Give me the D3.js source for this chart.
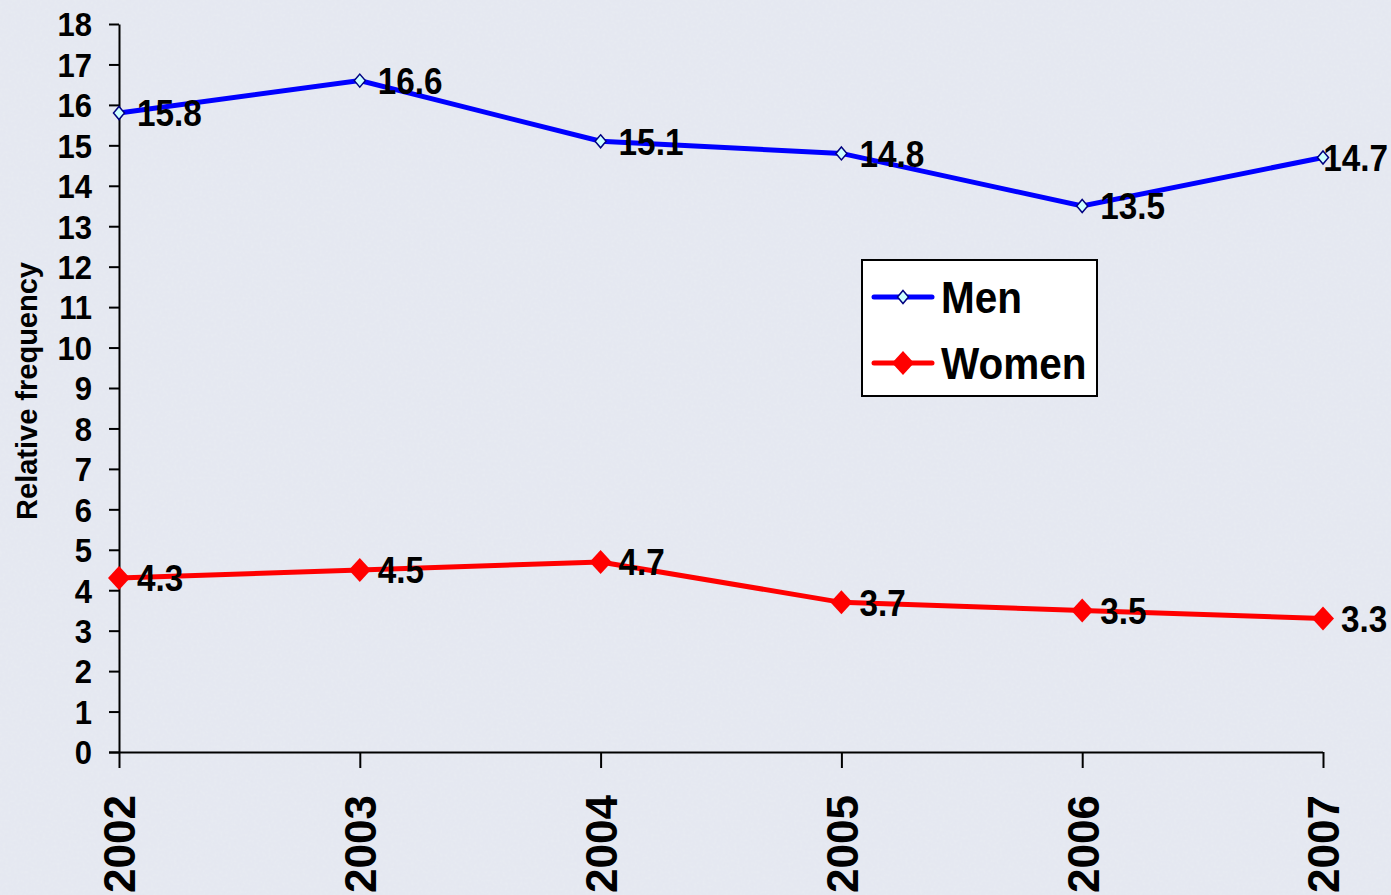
<!DOCTYPE html>
<html><head><meta charset="utf-8">
<script src="https://cdn.jsdelivr.net/npm/d3@7"></script>
<style>
html,body{margin:0;padding:0;background:#e1e5ee;}
svg{display:block;}
text{font-family:"Liberation Sans",Arial,sans-serif;font-weight:bold;fill:#000;}
</style></head>
<body>
<svg id="c" width="1391" height="895"></svg>
<script>
const years = ["2002","2003","2004","2005","2006","2007"];
const men = [15.8, 16.6, 15.1, 14.8, 13.5, 14.7];
const women = [4.3, 4.5, 4.7, 3.7, 3.5, 3.3];
const yTicks = d3.range(0, 19);
const seriesNames = ["Men", "Women"];

const W = 1391, H = 895;
const svg = d3.select("#c");
// textured background
const defs = svg.append("defs");
const f = defs.append("filter").attr("id","noise").attr("x",0).attr("y",0).attr("width","100%").attr("height","100%");
f.append("feTurbulence").attr("type","fractalNoise").attr("baseFrequency","0.35").attr("numOctaves",2).attr("seed",3).attr("result","n");
f.append("feColorMatrix").attr("in","n").attr("type","matrix")
 .attr("values","0 0 0 0 0.86  0 0 0 0 0.89  0 0 0 0 0.94  0 0 0 0.55 0").attr("result","c");
f.append("feComposite").attr("in","c").attr("in2","SourceGraphic").attr("operator","over");
svg.append("rect").attr("width",W).attr("height",H).attr("fill","#e4e7f0");
svg.append("rect").attr("width",W).attr("height",H).attr("fill","#e4e7f0").attr("filter","url(#noise)").attr("opacity",0.6);

const x = d3.scalePoint().domain(years).range([119, 1323]);
const y = d3.scaleLinear().domain([0, 18]).range([752, 24]);

// Y axis
const ya = svg.append("g").attr("transform","translate(119,0)")
  .call(d3.axisLeft(y).tickValues(yTicks).tickSize(10).tickSizeOuter(0).tickPadding(17));
ya.select(".domain").attr("stroke","#000").attr("stroke-width",2);
ya.selectAll(".tick line").attr("stroke","#000").attr("stroke-width",2);
ya.selectAll(".tick text").style("font-size","33px").attr("dy","0.36em")
  .attr("transform","scale(0.94,1)").attr("x",-27/0.94);

// X axis
const xa = svg.append("g").attr("transform","translate(0,752)")
  .call(d3.axisBottom(x).tickSize(16).tickSizeOuter(0));
xa.select(".domain").attr("d","M109,0.5H1323").attr("stroke","#000").attr("stroke-width",2);
xa.selectAll(".tick line").attr("stroke","#000").attr("stroke-width",2);
xa.selectAll(".tick text")
  .style("font-size","44px")
  .attr("text-anchor","end")
  .attr("transform","rotate(-90)")
  .attr("x",-43).attr("y",0).attr("dy","0.36em");

// Y title
svg.append("text")
  .attr("transform","translate(37,391) rotate(-90)")
  .attr("text-anchor","middle")
  .style("font-size","29px")
  .text("Relative frequency");

const line = d3.line().x((d,i)=>x(years[i])).y(d=>y(d));

// Men
svg.append("path").datum(men).attr("d",line).attr("fill","none")
  .attr("stroke","#0000ff").attr("stroke-width",5).attr("stroke-linejoin","miter");
// Women
svg.append("path").datum(women).attr("d",line).attr("fill","none")
  .attr("stroke","#ff0000").attr("stroke-width",5).attr("stroke-linejoin","miter");

function diamond(sel, cx, cy, w, h){
  sel.attr("d",`M${cx},${cy-h}L${cx+w},${cy}L${cx},${cy+h}L${cx-w},${cy}Z`);
}
men.forEach((v,i)=>{
  svg.append("path").call(diamond, x(years[i]), y(v), 5.5, 6.5)
    .attr("fill","#ccffff").attr("stroke","#000080").attr("stroke-width",1.5);
});
women.forEach((v,i)=>{
  svg.append("path").call(diamond, x(years[i]), y(v), 11, 12)
    .attr("fill","#ff0000");
});

// labels
const SX = 0.9;
function labels(data){
  svg.append("g").selectAll("text").data(data).join("text")
    .attr("dy","0.36em")
    .style("font-size","37px")
    .text(d=>d3.format(".1f")(d))
    .each(function(d,i){
      const w = this.getComputedTextLength()*SX;
      const lx = Math.min(x(years[i])+18, W - 3 - w);
      d3.select(this).attr("transform",`translate(${lx},${y(d)}) scale(${SX},1)`);
    });
}
labels(men);
labels(women);

// legend
const lg = svg.append("g");
lg.append("rect").attr("x",862).attr("y",260).attr("width",235).attr("height",136)
  .attr("fill","#fff").attr("stroke","#000").attr("stroke-width",2);
const legY = [297, 363];
lg.append("line").attr("x1",874).attr("x2",932).attr("y1",legY[0]).attr("y2",legY[0])
  .attr("stroke","#0000ff").attr("stroke-width",5).attr("stroke-linecap","round");
lg.append("path").call(diamond, 903, legY[0], 5.5, 6.5).attr("fill","#ccffff").attr("stroke","#000080").attr("stroke-width",1.5);
lg.append("line").attr("x1",874).attr("x2",932).attr("y1",legY[1]).attr("y2",legY[1])
  .attr("stroke","#ff0000").attr("stroke-width",5).attr("stroke-linecap","round");
lg.append("path").call(diamond, 903, legY[1], 11, 12).attr("fill","#ff0000");
seriesNames.forEach((n,i)=>{
  lg.append("text").attr("transform",`translate(941,${legY[i]}) scale(0.9,1)`).attr("dy","0.36em")
    .style("font-size","45px").text(n);
});
</script>
</body></html>
